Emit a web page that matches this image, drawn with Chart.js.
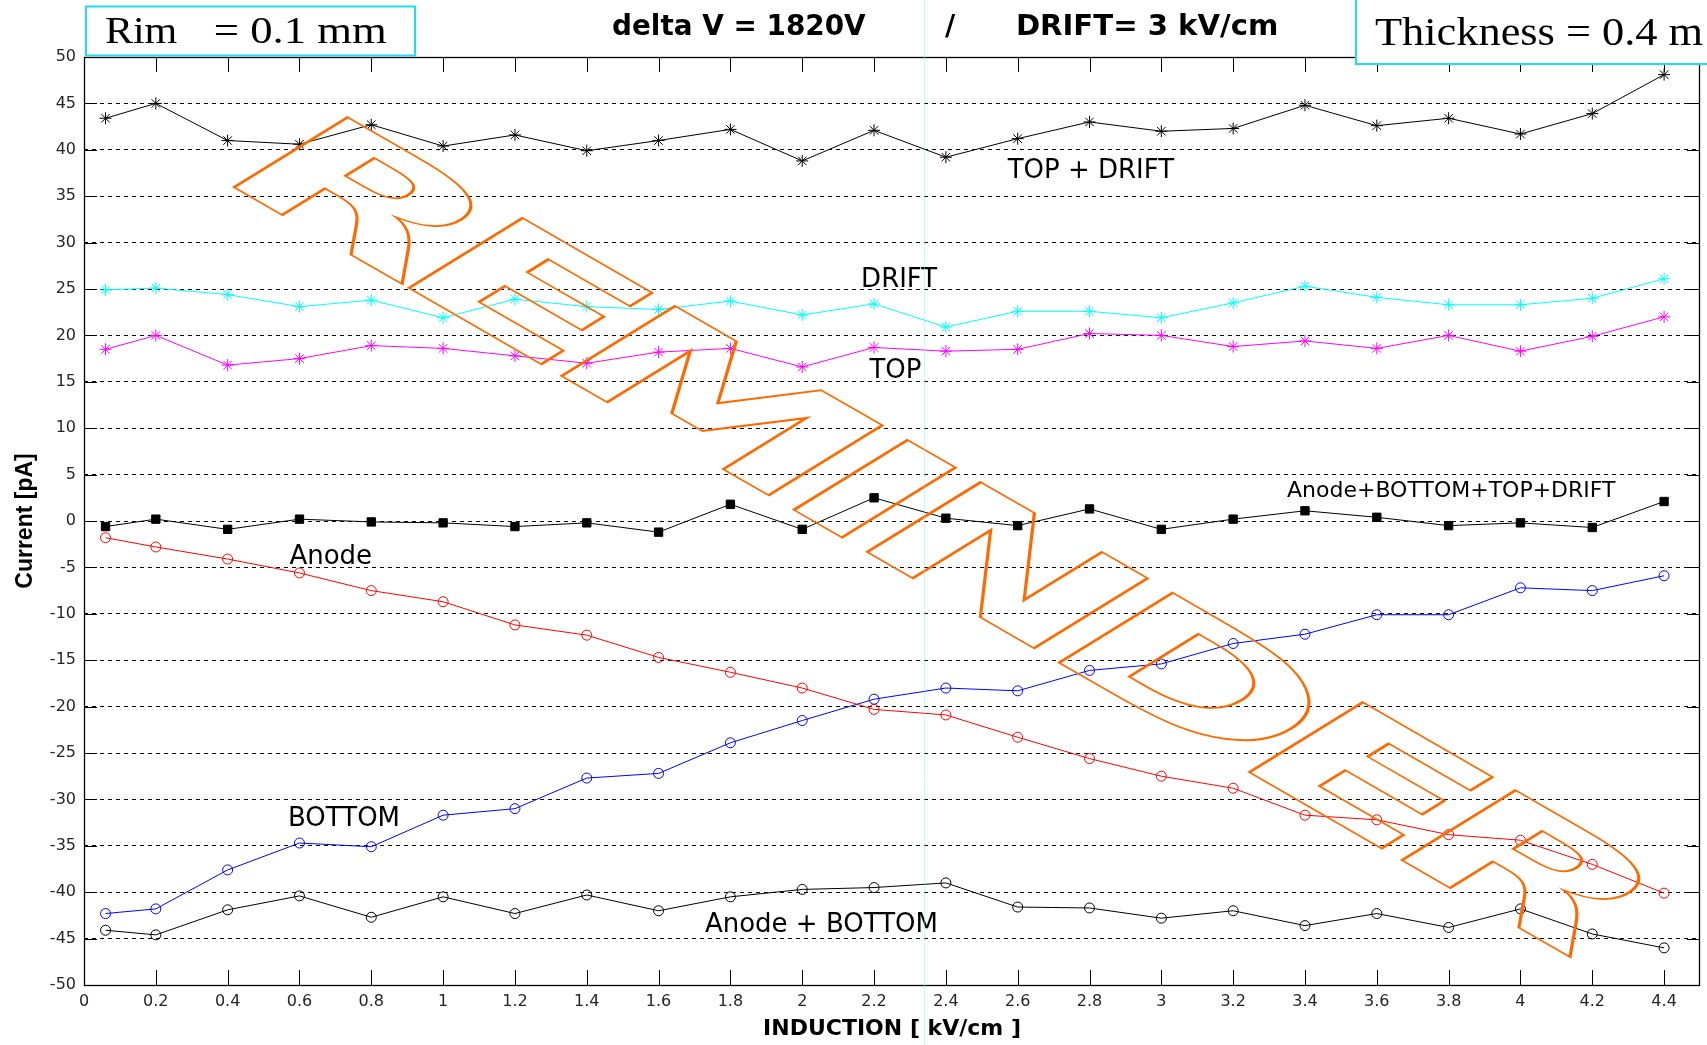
<!DOCTYPE html>
<html>
<head>
<meta charset="utf-8">
<title>Current vs induction field</title>
<script src="https://cdn.jsdelivr.net/npm/chart.js@4.4.1/dist/chart.umd.min.js"></script>
<style>
  html, body { margin: 0; padding: 0; background: #ffffff; }
  #wrap { position: relative; width: 1707px; height: 1045px; }
</style>
</head>
<body>
<div id="wrap"><canvas id="chart"></canvas></div>
<script>
// Induction field values (kV/cm)
const induction = [0.06, 0.2, 0.4, 0.6, 0.8, 1.0, 1.2, 1.4, 1.6, 1.8, 2.0, 2.2,
                   2.4, 2.6, 2.8, 3.0, 3.2, 3.4, 3.6, 3.8, 4.0, 4.2, 4.4];

// Measured currents (pA)
const topDriftCurrent    = [43.4, 45.0, 41.0, 40.6, 42.7, 40.4, 41.6, 39.9, 41.0, 42.2, 38.8, 42.1,
                            39.2, 41.2, 43.0, 42.0, 42.3, 44.8, 42.6, 43.4, 41.7, 43.9, 48.1];
const driftCurrent       = [24.9, 25.1, 24.4, 23.1, 23.8, 21.9, 23.9, 23.1, 22.8, 23.7, 22.2, 23.4,
                            20.9, 22.6, 22.6, 21.9, 23.5, 25.3, 24.1, 23.3, 23.3, 24.0, 26.1];
const topCurrent         = [18.5, 20.0, 16.8, 17.5, 18.9, 18.6, 17.8, 17.0, 18.2, 18.6, 16.6, 18.7,
                            18.3, 18.5, 20.2, 20.0, 18.8, 19.4, 18.6, 20.0, 18.3, 19.9, 22.0];
const totalCurrent       = [-0.6, 0.2, -0.9, 0.2, -0.1, -0.2, -0.6, -0.2, -1.2, 1.8, -0.9, 2.5,
                            0.3, -0.5, 1.3, -0.9, 0.2, 1.1, 0.4, -0.5, -0.2, -0.7, 2.1];
const anodeCurrent       = [-1.8, -2.8, -4.1, -5.6, -7.5, -8.7, -11.2, -12.3, -14.7, -16.3, -18.0, -20.3,
                            -20.9, -23.3, -25.6, -27.5, -28.8, -31.7, -32.2, -33.8, -34.4, -37.0, -40.1];
const bottomCurrent      = [-42.3, -41.8, -37.6, -34.7, -35.1, -31.7, -31.0, -27.7, -27.2, -23.9, -21.5, -19.2,
                            -18.0, -18.3, -16.1, -15.4, -13.2, -12.2, -10.1, -10.1, -7.2, -7.5, -5.9];
const anodeBottomCurrent = [-44.1, -44.6, -41.9, -40.4, -42.7, -40.5, -42.3, -40.3, -42.0, -40.5, -39.7, -39.5,
                            -39.0, -41.6, -41.7, -42.8, -42.0, -43.6, -42.3, -43.8, -41.8, -44.5, -46.0];

// Axis ranges and tick steps
const xRange = [0, 4.5];
const xStep = 0.2;
const yRange = [-50, 50];
const yStep = 5;

// Curve names and their anchor points (data coordinates)
const curveNames = ['TOP + DRIFT', 'DRIFT', 'TOP', 'Anode+BOTTOM+TOP+DRIFT', 'Anode', 'BOTTOM', 'Anode + BOTTOM'];
const curveNameX = [2.572, 2.164, 2.187, 3.35, 0.572, 0.568, 1.729];
const curveNameY = [36.92, 25.17, 15.37, 2.60, -4.6, -32.9, -44.29];

const toPoints = arr => induction.map((x, i) => ({ x, y: arr[i] }));

function series(data, color, style, radius, filled) {
  return {
    data: toPoints(data),
    borderColor: color,
    backgroundColor: filled ? color : 'rgba(0,0,0,0)',
    borderWidth: 1,
    pointStyle: style,
    pointRadius: radius,
    pointBorderColor: color,
    pointBackgroundColor: filled ? color : 'rgba(0,0,0,0)',
    pointBorderWidth: 1,
    tension: 0,
    fill: false
  };
}

// Box frame with inward tick marks on all four sides
const axesFrame = {
  id: 'axesFrame',
  afterDatasetsDraw(chart) {
    const { ctx, chartArea: a, scales: { x, y } } = chart;
    ctx.save();
    ctx.strokeStyle = '#000';
    ctx.lineWidth = 1;
    ctx.beginPath();
    x.ticks.forEach(t => {
      const px = Math.round(x.getPixelForValue(t.value)) + 0.5;
      ctx.moveTo(px, a.bottom); ctx.lineTo(px, a.bottom - 15);
      ctx.moveTo(px, a.top); ctx.lineTo(px, a.top + 15);
    });
    y.ticks.forEach(t => {
      const py = Math.round(y.getPixelForValue(t.value)) + 0.5;
      ctx.moveTo(a.left, py); ctx.lineTo(a.left + 13, py);
      ctx.moveTo(a.right, py); ctx.lineTo(a.right - 13, py);
    });
    ctx.stroke();
    ctx.lineWidth = 1.3;
    ctx.strokeRect(Math.round(a.left) + 0.5, Math.round(a.top) + 0.5,
                   Math.round(a.right - a.left) - 1, Math.round(a.bottom - a.top));
    ctx.restore();
  }
};

// Curve names written next to the curves
const curveLabels = {
  id: 'curveLabels',
  afterDatasetsDraw(chart) {
    const { ctx, scales: { x, y } } = chart;
    ctx.save();
    ctx.fillStyle = '#000';
    ctx.textAlign = 'left';
    ctx.textBaseline = 'alphabetic';
    curveNames.forEach((name, i) => {
      const size = name.length > 16 ? 22 : 26;
      ctx.font = size + 'px "DejaVu Sans"';
      ctx.fillText(name, x.getPixelForValue(curveNameX[i]), y.getPixelForValue(curveNameY[i]));
    });
    ctx.restore();
  }
};

// Outlined diagonal stamp across the plot
const stamp = {
  id: 'stamp',
  afterDatasetsDraw(chart) {
    const { ctx, chartArea: a } = chart;
    const w = a.right - a.left, h = a.bottom - a.top;
    const word = 'REMINDER';
    const widen = 1.13;
    ctx.save();
    ctx.font = 'bold 100px "DejaVu Sans"';
    ctx.textAlign = 'left';
    ctx.textBaseline = 'alphabetic';
    const natural = ctx.measureText(word.slice(0, -1)).width;
    // tighter tracking so that wider glyphs keep the same overall span
    const spacing = natural * (1 / widen - 1) / 7;
    ctx.letterSpacing = spacing.toFixed(2) + 'px';
    const lead = ctx.measureText(word.slice(0, -1)).width;
    const lsb = -ctx.measureText('R').actualBoundingBoxLeft;
    const cap = ctx.measureText('E').actualBoundingBoxAscent;
    // foot of the first and of the last letter stem
    const sx = a.left + 0.0926 * w, sy = a.top + 0.1401 * h;
    const ex = a.left + 0.8153 * w, ey = a.top + 0.8653 * h;
    const bx = (ex - sx) / lead, by = (ey - sy) / lead;
    const ux = 0.0704 * w / cap, uy = -0.0755 * h / cap;
    ctx.transform(bx, by, -ux, -uy, sx - lsb * bx, sy - lsb * by);
    ctx.lineJoin = 'miter';
    ctx.lineWidth = 1.05;
    ctx.strokeStyle = '#ff6a00';
    ctx.strokeText(word, 0, 0);
    ctx.restore();
  }
};

// Text whose ink spans exactly [x0, x1] horizontally
function fitText(ctx, text, font, x0, x1, baseline) {
  ctx.save();
  ctx.font = font;
  ctx.textAlign = 'left';
  ctx.textBaseline = 'alphabetic';
  const m = ctx.measureText(text);
  const ink = m.actualBoundingBoxLeft + m.actualBoundingBoxRight;
  ctx.translate(x0, baseline);
  ctx.scale((x1 - x0) / ink, 1);
  ctx.fillStyle = '#000';
  ctx.fillText(text, m.actualBoundingBoxLeft, 0);
  ctx.restore();
}

// Header: title line and the two parameter boxes
const header = {
  id: 'header',
  afterDraw(chart) {
    const { ctx, scales: { x } } = chart;
    ctx.save();
    // faint vertical line
    const gx = Math.round(x.getPixelForValue(2.339)) + 0.5;
    ctx.strokeStyle = 'rgba(140,235,245,0.45)';
    ctx.lineWidth = 1;
    ctx.beginPath(); ctx.moveTo(gx, 0); ctx.lineTo(gx, chart.height); ctx.stroke();

    const titleFont = 'bold 28px "DejaVu Sans"';
    fitText(ctx, 'delta V = 1820V', titleFont, 613, 866, 35);
    fitText(ctx, '/', titleFont, 945, 956, 35);
    fitText(ctx, 'DRIFT= 3 kV/cm', titleFont, 1018, 1276, 35);

    function frame(bx, by, bw, bh) {
      ctx.fillStyle = '#fff';
      ctx.fillRect(bx, by, bw, bh);
      ctx.strokeStyle = '#1fdcee';
      ctx.lineWidth = 2;
      ctx.strokeRect(bx, by, bw, bh);
    }
    frame(86, 6.5, 329, 49);
    fitText(ctx, 'Rim', '38px "Liberation Serif"', 106, 176.7, 43.3);
    fitText(ctx, '= 0.1 mm', '38px "Liberation Serif"', 215, 386, 43.3);

    frame(1356, -5, 360, 69);
    fitText(ctx, 'Thickness = 0.4 m', '40px "Liberation Serif"', 1375, 1703, 45);
    ctx.restore();
  }
};

new Chart(document.getElementById('chart'), {
  type: 'line',
  data: {
    datasets: [
      series(topDriftCurrent, '#000000', 'star', 6, false),
      series(driftCurrent, '#00ffff', 'star', 6, false),
      series(topCurrent, '#ff00ff', 'star', 6, false),
      series(totalCurrent, '#000000', 'rect', 5.9, true),
      series(anodeCurrent, '#ff0000', 'circle', 5, false),
      series(bottomCurrent, '#0000ff', 'circle', 5, false),
      series(anodeBottomCurrent, '#000000', 'circle', 5, false)
    ]
  },
  options: {
    responsive: true,
    maintainAspectRatio: false,
    animation: false,
    events: [],
    layout: { padding: { top: 57, right: 3, left: 0, bottom: 0 } },
    plugins: {
      legend: { display: false },
      title: { display: false },
      tooltip: { enabled: false }
    },
    scales: {
      x: {
        type: 'linear',
        min: xRange[0],
        max: xRange[1],
        ticks: {
          stepSize: xStep,
          includeBounds: false,
          autoSkip: false,
          maxRotation: 0,
          padding: 7,
          color: '#262626',
          font: { family: '"DejaVu Sans"', size: 16 },
          callback: v => String(+v.toFixed(1))
        },
        grid: { display: false, drawTicks: false },
        border: { display: false },
        title: {
          display: true,
          text: 'INDUCTION [ kV/cm ]',
          color: '#000',
          font: { family: '"DejaVu Sans"', size: 22, weight: 'bold' },
          padding: { top: 0, bottom: 3 }
        },
        afterFit: s => { s.height = 60; }
      },
      y: {
        type: 'linear',
        min: yRange[0],
        max: yRange[1],
        ticks: {
          stepSize: yStep,
          padding: 8,
          color: '#262626',
          font: { family: '"DejaVu Sans"', size: 16 },
          callback: v => String(v)
        },
        grid: { display: true, color: '#000', lineWidth: 1, drawTicks: false },
        border: { display: false, dash: [4, 4] },
        title: {
          display: true,
          text: 'Current [pA]',
          color: '#000',
          font: { family: '"Liberation Sans"', size: 23, weight: 'bold' },
          padding: { top: 12, bottom: 0 }
        },
        afterFit: s => { s.width = 84; }
      }
    }
  },
  plugins: [axesFrame, curveLabels, stamp, header]
});
</script>
</body>
</html>
